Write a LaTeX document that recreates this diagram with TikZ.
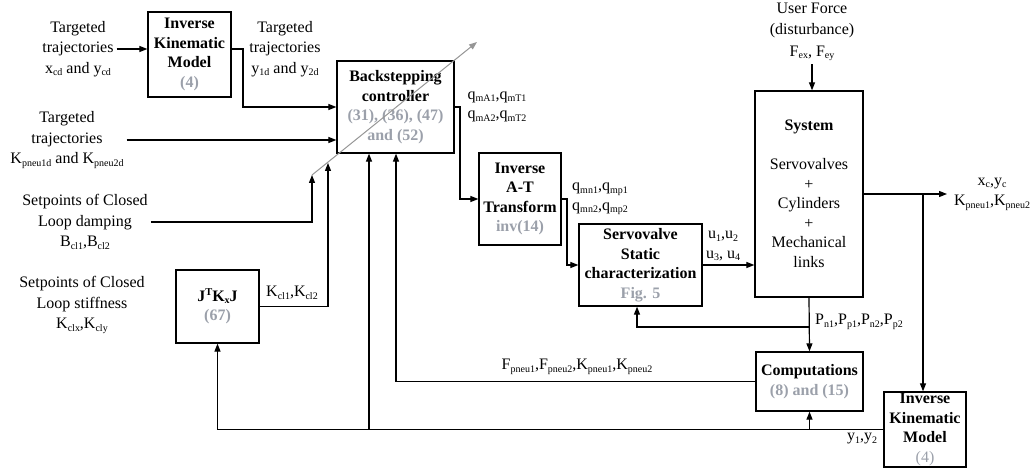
\documentclass[tikz,border=0pt]{standalone}
\usepackage{fontspec}
\setmainfont{Liberation Serif}
\usetikzlibrary{arrows.meta,calc}
\definecolor{eqgray}{RGB}{155,160,170}
\definecolor{diaggray}{RGB}{150,150,150}
\newcommand{\lo}[1]{\raisebox{-2.5pt}{\fontsize{10}{10}\selectfont #1}}
\newcommand{\hi}[1]{\raisebox{6pt}{\fontsize{10.5}{10}\selectfont #1}}
\newcommand{\eqn}[1]{\textcolor{eqgray}{#1}}
\begin{document}
\begin{tikzpicture}[x=1pt,y=-1pt,
  box/.style={draw, line width=1.3pt, align=center, inner sep=0pt, font=\fontsize{16}{19.5}\selectfont\bfseries},
  lbl/.style={align=center, font=\fontsize{16}{20.5}\selectfont, inner sep=3pt},
  lblt/.style={align=center, font=\fontsize{16}{19.5}\selectfont, inner sep=3pt},
  conn/.style={line width=1.2pt},
  arr/.style={conn, -{Triangle[length=8pt,width=6pt]}}]
\useasboundingbox (0,0) rectangle (1033,473);
% boxes
\node[box, minimum width=83pt, minimum height=85pt] (ikm1) at (189.5,54.5) {Inverse\\Kinematic\\Model\\\eqn{(4)}};
\node[box, minimum width=117pt, minimum height=92pt] (bs) at (395.5,107) {Backstepping\\controller\\\eqn{(31), (36), (47)}\\\eqn{and (52)}};
\node[box, minimum width=82pt, minimum height=92pt] (at) at (520,199) {Inverse\\A-T\\Transform\\\eqn{inv(14)}};
\node[box, minimum width=123pt, minimum height=82pt] (sv) at (640.5,265) {Servovalve\\Static\\characterization\\\eqn{Fig. 5}};
\node[box, minimum width=108pt, minimum height=206pt] (sys) at (809,194) {System\\[19.5pt]\mdseries Servovalves\\\mdseries +\\\mdseries Cylinders\\\mdseries +\\\mdseries Mechanical\\\mdseries links};
\node[box, minimum width=83pt, minimum height=73pt] (jk) at (217.5,306.5) {J\hi{T}K\lo{x}J\\\eqn{(67)}};
\node[box, minimum width=107pt, minimum height=59pt] (comp) at (809.5,381.5) {Computations\\\eqn{(8) and (15)}};
\node[box, minimum width=82pt, minimum height=75pt] (ikm2) at (925,429.5) {Inverse\\Kinematic\\Model\\\eqn{\mdseries (4)}};
% labels
\node[lbl] (L1) at (78,49) {Targeted\\trajectories\\x\lo{cd} and y\lo{cd}};
\node[lbl] (L2) at (285,49) {Targeted\\trajectories\\y\lo{1d} and y\lo{2d}};
\node[lbl] (L3) at (67,140) {Targeted\\trajectories\\K\lo{pneu1d} and K\lo{pneu2d}};
\node[lbl] (L4) at (85,222) {Setpoints of Closed\\Loop damping\\B\lo{cl1},B\lo{cl2}};
\node[lbl] (L5) at (82,305) {Setpoints of Closed\\Loop stiffness\\K\lo{clx},K\lo{cly}};
\node[lbl, font=\fontsize{16}{21.5}\selectfont] (L6) at (812,32) {User Force\\(disturbance)\\F\lo{ex}, F\lo{ey}};
\node[lblt] (L7) at (497,107) {q\lo{mA1},q\lo{mT1}\\q\lo{mA2},q\lo{mT2}};
\node[lblt] (L8) at (600,199) {q\lo{mn1},q\lo{mp1}\\q\lo{mn2},q\lo{mp2}};
\node[lblt] (L9) at (723,246) {u\lo{1},u\lo{2}\\u\lo{3}, u\lo{4}};
\node[lbl] (L10) at (992,194) {x\lo{c},y\lo{c}\\K\lo{pneu1},K\lo{pneu2}};
\node[lblt] (L11) at (292,293) {K\lo{cl1},K\lo{cl2}};
\node[lblt] (L12) at (859,322) {P\lo{n1},P\lo{p1},P\lo{n2},P\lo{p2}};
\node[lblt] (L13) at (577,367) {F\lo{pneu1},F\lo{pneu2},K\lo{pneu1},K\lo{pneu2}};
\node[lblt] (L14) at (862,439) {y\lo{1},y\lo{2}};
% coordinates
\coordinate (c49) at (0,49);
\coordinate (k1) at (243,107);
\coordinate (g0) at (312,175);
\coordinate (g1) at (477,42);
\coordinate (g2) at (328,163);
\coordinate (k2) at (460,199);
\coordinate (k3) at (567,265);
\coordinate (o1) at (947,194);
\coordinate (j1) at (923,194);
\coordinate (j2) at (809,327);
\coordinate (k5) at (396,382);
\coordinate (k6) at (369,429.5);
% connectors
\draw[arr] (L1.east) -- (ikm1.west |- L1.east);
\draw[arr] (ikm1.east |- c49) -| (k1) -- (bs.west |- k1);
\draw[arr] (L3.east) -- (bs.west |- L3.east);
\draw[diaggray, line width=1pt, -{Triangle[length=8pt,width=6pt]}] (g0) -- (g1);
\draw[arr] (L4.east) -| (g0);
\draw[arr] (jk.east) -| (g2);
\draw[arr] (bs.east) -| (k2) -- (at.west);
\draw[arr] (at.east) -| (k3) -- (sv.west);
\draw[arr] (sv.east) -- (sys.west |- sv.east);
\draw[arr] (L6.south) -- (L6.south |- sys.north);
\draw[arr] (sys.east) -- (o1);
\draw[arr] (j1) -- (j1 |- ikm2.north);
\draw[arr] (sys.south) -- (comp.north);
\draw[arr] (j2) -| ([xshift=-3.5pt]sv.south);
\draw[arr] (comp.west) -| (bs.south -| k5);
\draw[arr] (ikm2.west) -| (jk.south);
\draw[arr] (comp.south |- ikm2.west) -- (comp.south);
\draw[arr] (k6) -- (bs.south -| k6);
\end{tikzpicture}
\end{document}
